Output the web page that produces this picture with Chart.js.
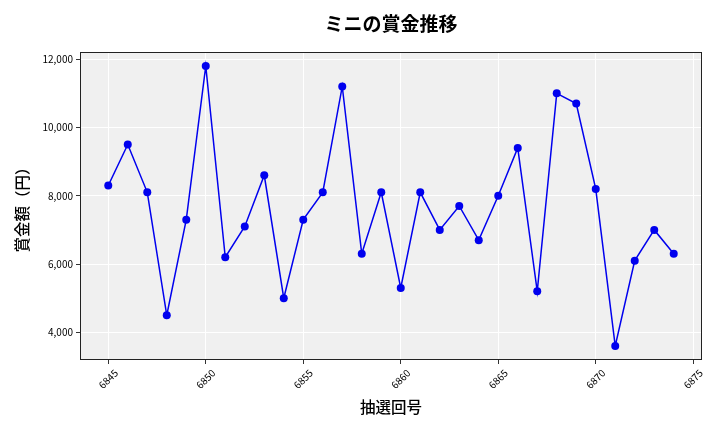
<!DOCTYPE html>
<html>
<head>
<meta charset="utf-8">
<script src="https://cdn.jsdelivr.net/npm/chart.js@4.4.1/dist/chart.umd.min.js"></script>
<style>
  html, body { margin: 0; padding: 0; background: #ffffff; }
  #wrap { width: 720px; height: 432px; }
</style>
</head>
<body>
<div id="wrap"><canvas id="chart" width="720" height="432"></canvas></div>
<script>
// Chart data
const drawNumbers = [6845, 6846, 6847, 6848, 6849, 6850, 6851, 6852, 6853, 6854,
                     6855, 6856, 6857, 6858, 6859, 6860, 6861, 6862, 6863, 6864,
                     6865, 6866, 6867, 6868, 6869, 6870, 6871, 6872, 6873, 6874];
const prizeValues = [8300, 9500, 8100, 4500, 7300, 11800, 6200, 7100, 8600, 5000,
                     7300, 8100, 11200, 6300, 8100, 5300, 8100, 7000, 7700, 6700,
                     8000, 9400, 5200, 11000, 10700, 8200, 3600, 6100, 7000, 6300];
const xTickValues = [6845, 6850, 6855, 6860, 6865, 6870, 6875];
const yTickValues = [4000, 6000, 8000, 10000, 12000];

const titleText = 'ミニの賞金推移';
const xAxisLabel = '抽選回号';
const yAxisLabel = '賞金額（円）';

const FONT = "'Noto Sans CJK JP', 'Noto Sans', sans-serif";

// matplotlib-like 5% margins
const xSpan = drawNumbers[drawNumbers.length - 1] - drawNumbers[0];
const xMin = drawNumbers[0] - xSpan * 0.05;
const xMax = drawNumbers[drawNumbers.length - 1] + xSpan * 0.05;
const yLo = Math.min(...prizeValues), yHi = Math.max(...prizeValues);
const yMin = yLo - (yHi - yLo) * 0.05;
const yMax = yHi + (yHi - yLo) * 0.05;

const points = drawNumbers.map((x, i) => ({ x: x, y: prizeValues[i] }));

// Plot background, frame, title and rotated x labels
const decorPlugin = {
  id: 'decor',
  beforeDraw(chart) {
    const { ctx, chartArea: a } = chart;
    ctx.save();
    ctx.fillStyle = '#f0f0f0';
    ctx.fillRect(a.left, a.top, a.right - a.left, a.bottom - a.top);
    ctx.restore();
  },
  afterDraw(chart) {
    const { ctx, chartArea: a } = chart;
    ctx.save();
    ctx.strokeStyle = '#222222';
    ctx.lineWidth = 1;
    ctx.strokeRect(a.left + 0.5, a.top + 0.5, a.right - a.left - 1, a.bottom - a.top - 1);

    // title centred over the plot
    ctx.fillStyle = '#000000';
    ctx.font = 'bold 19px ' + FONT;
    ctx.textAlign = 'center';
    ctx.textBaseline = 'middle';
    ctx.fillText(titleText, (a.left + a.right) / 2, 24);

    // x tick labels, rotated 45deg and centred on the tick
    const xs = chart.scales.x;
    ctx.font = '10px ' + FONT;
    xTickValues.forEach(v => {
      const px = xs.getPixelForValue(v);
      ctx.save();
      ctx.translate(px, a.bottom + 19);
      ctx.rotate(-Math.PI / 4);
      ctx.textAlign = 'center';
      ctx.textBaseline = 'middle';
      ctx.fillText(String(v), 0, 0);
      ctx.restore();
    });
    ctx.restore();
  }
};

new Chart(document.getElementById('chart').getContext('2d'), {
  type: 'line',
  data: {
    datasets: [{
      label: 'ミニ',
      data: points,
      borderColor: '#0000ee',
      backgroundColor: '#0000ee',
      borderWidth: 1.5,
      pointRadius: 4,
      pointBorderWidth: 0,
      pointHoverRadius: 4,
      tension: 0
    }]
  },
  options: {
    responsive: false,
    animation: false,
    devicePixelRatio: 1,
    layout: { padding: { left: 8, right: 18, top: 52, bottom: 0 } },
    plugins: {
      legend: { display: false },
      title: { display: false },
      tooltip: { enabled: false }
    },
    scales: {
      x: {
        type: 'linear',
        min: xMin,
        max: xMax,
        afterBuildTicks(scale) {
          scale.ticks = xTickValues.map(v => ({ value: v }));
        },
        afterFit(scale) { scale.height = 72; },
        ticks: { display: false },
        grid: {
          color: '#ffffff',
          lineWidth: 1,
          drawTicks: true,
          tickLength: 4,
          tickColor: '#333333'
        },
        border: { display: false },
        title: {
          display: true,
          text: xAxisLabel,
          color: '#000000',
          font: { family: FONT, size: 15.5, weight: '500' },
          padding: { top: 0, bottom: 16 }
        }
      },
      y: {
        type: 'linear',
        min: yMin,
        max: yMax,
        afterBuildTicks(scale) {
          scale.ticks = yTickValues.map(v => ({ value: v }));
        },
        afterFit(scale) { scale.width = 72; },
        ticks: {
          color: '#000000',
          font: { family: FONT, size: 10 },
          padding: 3,
          callback: v => v.toLocaleString('en-US')
        },
        grid: {
          color: '#ffffff',
          lineWidth: 1,
          drawTicks: true,
          tickLength: 4,
          tickColor: '#333333'
        },
        border: { display: false },
        title: {
          display: true,
          text: yAxisLabel,
          color: '#000000',
          font: { family: FONT, size: 15.5, weight: '500' },
          padding: { top: 5, bottom: 0 }
        }
      }
    }
  },
  plugins: [decorPlugin]
});
</script>
</body>
</html>
